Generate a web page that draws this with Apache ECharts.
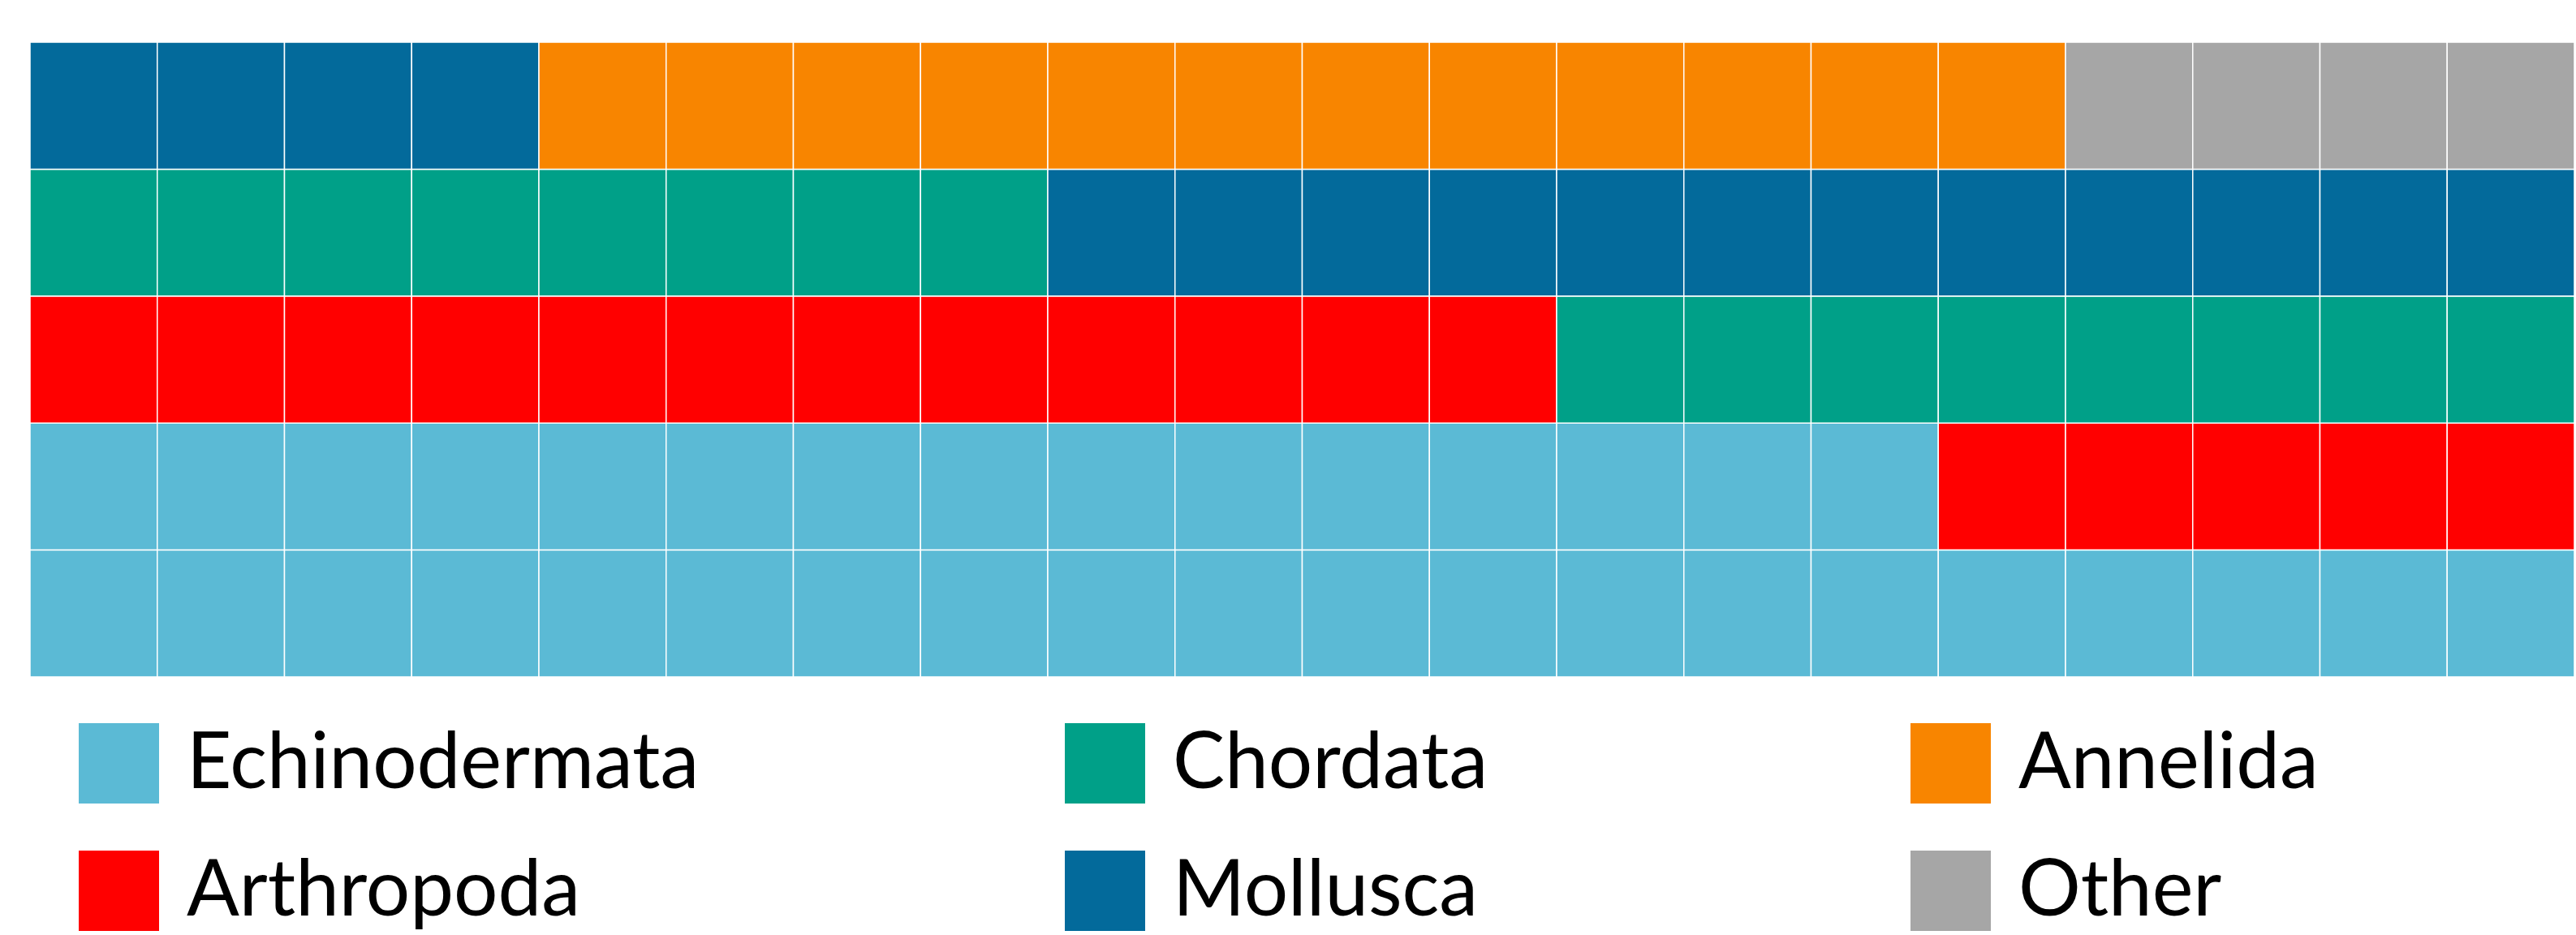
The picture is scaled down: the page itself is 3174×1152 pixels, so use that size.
<!DOCTYPE html>
<html>
<head>
<meta charset="utf-8">
<script src="https://cdn.jsdelivr.net/npm/echarts@6/dist/echarts.min.js"></script>
<style>
html,body{margin:0;padding:0;background:#fff;}
#chart{width:3174px;height:1152px;}
</style>
</head>
<body>
<div id="chart"></div>
<script>
// Waffle chart data (100 cells, 20 columns x 5 rows, filled from bottom-left)
const categories = ['Echinodermata', 'Arthropoda', 'Chordata', 'Mollusca', 'Annelida', 'Other'];
const counts = [35, 17, 16, 16, 12, 4];
const colors = ['#5bbad5', '#ff0000', '#00a088', '#036a9b', '#f88500', '#a6a6a6'];
const nCols = 20;
const nRows = 5;
const colLabels = Array.from({length: nCols}, (_, i) => String(i));
const rowLabels = Array.from({length: nRows}, (_, i) => String(i));

// Build cell lists per category
let k = 0;
const cellData = counts.map(c => {
  const arr = [];
  for (let i = 0; i < c; i++, k++) {
    arr.push([k % nCols, Math.floor(k / nCols)]);
  }
  return arr;
});

function renderItem(params, api) {
  const p = api.coord([api.value(0), api.value(1)]);
  const s = api.size([1, 1]);
  return {
    type: 'rect',
    shape: {x: p[0] - s[0] / 2, y: p[1] - s[1] / 2, width: s[0], height: s[1]},
    style: {fill: api.visual('color'), stroke: '#ffffff', lineWidth: 1.5}
  };
}

const series = categories.map((name, i) => ({
  name: name,
  type: 'custom',
  renderItem: renderItem,
  itemStyle: {color: colors[i]},
  encode: {x: 0, y: 1},
  data: cellData[i],
  silent: true
}));

const legendText = {
  fontFamily: 'Lato',
  fontSize: 96,
  color: '#000',
  lineHeight: 99,
  padding: [0, 0, 0, 29]
};
const legendBase = {
  orient: 'vertical',
  icon: 'rect',
  itemWidth: 99,
  itemHeight: 99,
  itemGap: 58,
  top: 891,
  height: 300,
  padding: 0,
  textStyle: legendText,
  selectedMode: false
};

const option = {
  backgroundColor: '#ffffff',
  animation: false,
  grid: {left: 37, top: 52, width: 3135, height: 782},
  xAxis: {type: 'category', data: colLabels, show: false},
  yAxis: {type: 'category', data: rowLabels, show: false},
  legend: [
    Object.assign({}, legendBase, {left: 97, data: ['Echinodermata', 'Arthropoda']}),
    Object.assign({}, legendBase, {left: 1312, data: ['Chordata', 'Mollusca']}),
    Object.assign({}, legendBase, {left: 2354, data: ['Annelida', 'Other']})
  ],
  series: series
};

const chart = echarts.init(document.getElementById('chart'));
chart.setOption(option);
</script>
</body>
</html>
